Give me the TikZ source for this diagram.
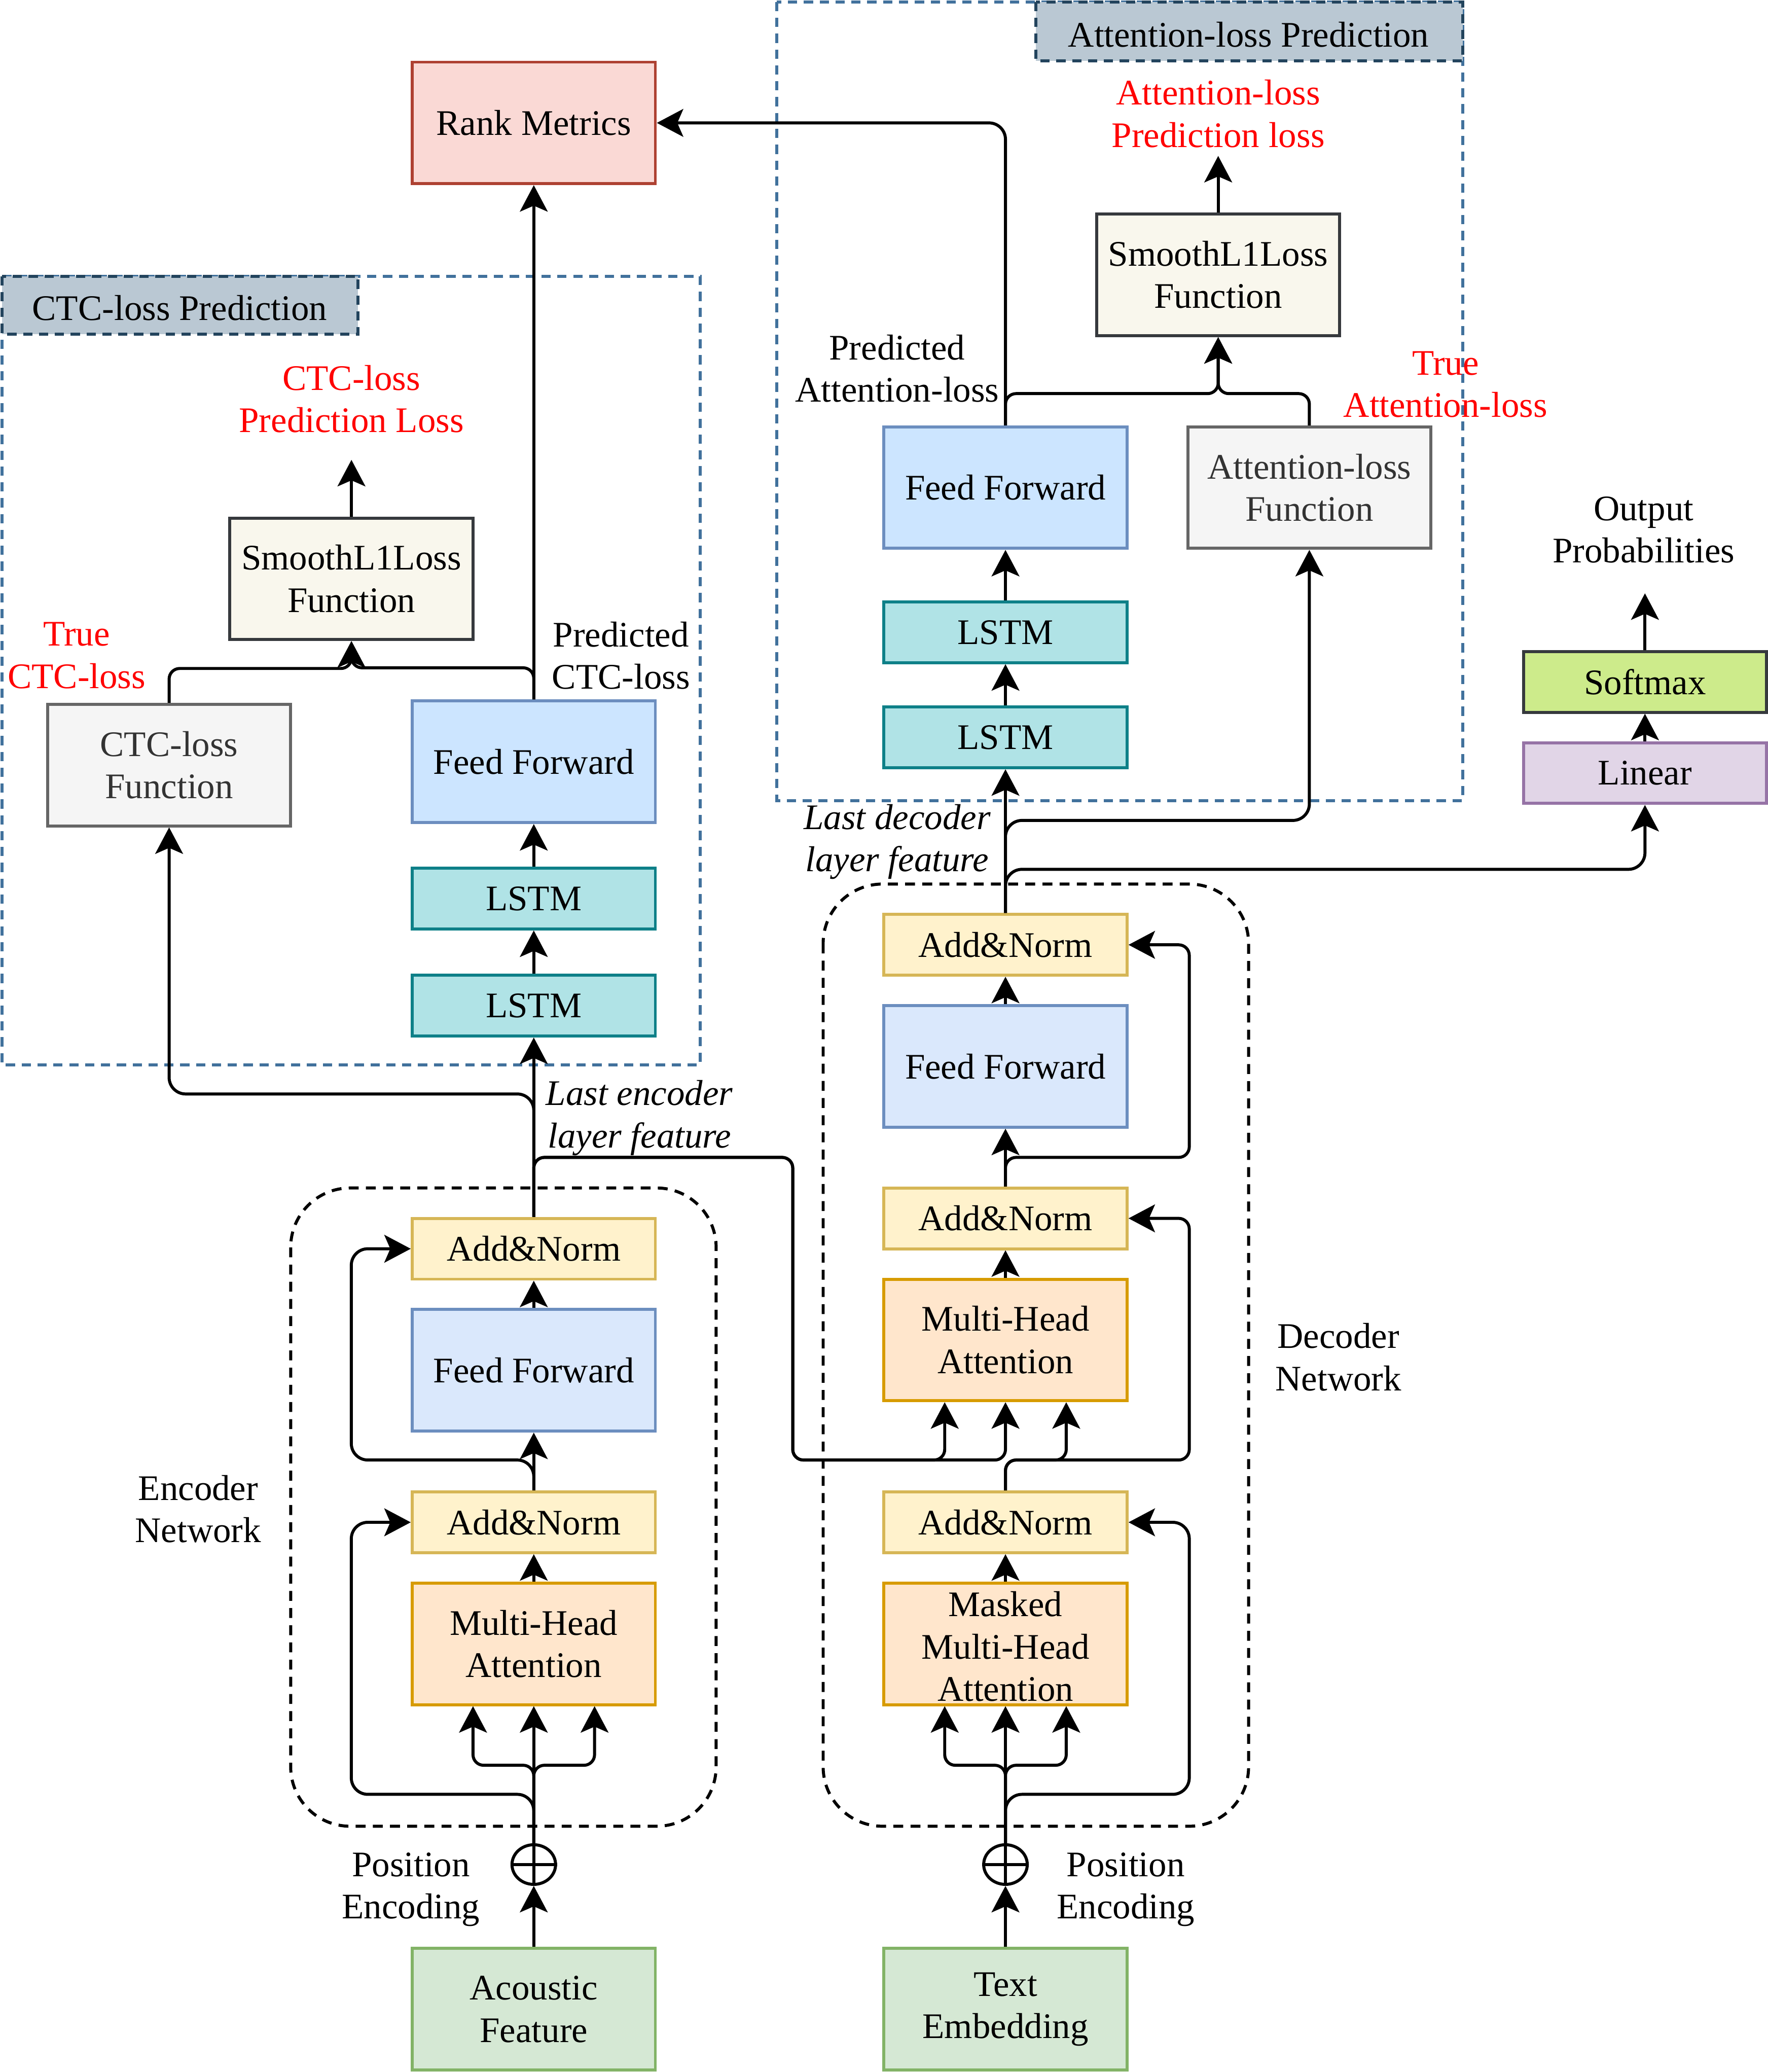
\documentclass[tikz,border=0pt]{standalone}
\usepackage{fontspec}
\setmainfont{Liberation Serif}
\usetikzlibrary{arrows.meta,calc,shapes.geometric}
\definecolor{rankF}{HTML}{FAD9D5}\definecolor{rankD}{HTML}{AE4132}
\definecolor{ffpF}{HTML}{CCE5FF}\definecolor{ffD}{HTML}{6C8EBF}
\definecolor{ffF}{HTML}{DAE8FC}
\definecolor{lstmF}{HTML}{B0E3E6}\definecolor{lstmD}{HTML}{0E8088}
\definecolor{grayF}{HTML}{F5F5F5}\definecolor{grayD}{HTML}{666666}\definecolor{grayT}{HTML}{333333}
\definecolor{smF}{HTML}{F9F7ED}\definecolor{smD}{HTML}{36393D}
\definecolor{anF}{HTML}{FFF2CC}\definecolor{anD}{HTML}{D6B656}
\definecolor{mhaF}{HTML}{FFE6CC}\definecolor{mhaD}{HTML}{D79B00}
\definecolor{grF}{HTML}{D5E8D4}\definecolor{grD}{HTML}{82B366}
\definecolor{sfF}{HTML}{CDEB8B}
\definecolor{lnF}{HTML}{E1D5E7}\definecolor{lnD}{HTML}{9673A6}
\definecolor{lbF}{HTML}{BAC8D3}\definecolor{lbD}{HTML}{23445D}
\definecolor{frD}{HTML}{41719C}
\definecolor{redT}{HTML}{FF0000}
\begin{document}
\begin{tikzpicture}[x=0.02cm,y=-0.02cm,
  font=\fontsize{15.5pt}{18.2pt}\selectfont,
  lw/.style={line width=1.3pt},
  arr/.style={lw,-{Stealth[length=0.4cm,width=0.42cm,inset=0.09cm]},rounded corners=0.25cm},
  sharpfork/.style={rounded corners=0.16cm},
  box/.style={draw,lw,minimum width=3.68cm,inner sep=0pt,align=center},
  tall/.style={box,minimum height=1.84cm},
  short/.style={box,minimum height=0.92cm},
  ffp/.style={tall,fill=ffpF,draw=ffD},
  ffe/.style={tall,fill=ffF,draw=ffD},
  lstm/.style={short,fill=lstmF,draw=lstmD},
  grayfn/.style={tall,fill=grayF,draw=grayD,text=grayT},
  smooth/.style={tall,fill=smF,draw=smD},
  addnorm/.style={short,fill=anF,draw=anD},
  mha/.style={tall,fill=mhaF,draw=mhaD},
  inp/.style={tall,fill=grF,draw=grD},
  txt/.style={align=center,inner sep=0pt},
  ittxt/.style={txt,font=\fontsize{15.5pt}{18.2pt}\selectfont\itshape},
  frame/.style={draw=frD,lw,dash pattern=on 0.14cm off 0.1cm},
  lblbox/.style={fill=lbF,draw=lbD,lw,dash pattern=on 0.14cm off 0.1cm},
  netframe/.style={draw=black,lw,dash pattern=on 0.15cm off 0.11cm,rounded corners=0.9cm},
  plus/.style={draw,lw,ellipse,minimum width=0.66cm,minimum height=0.6cm,inner sep=0pt}
]
\useasboundingbox (0,0) rectangle (1338,1568);

% ---- frames ----
\draw[frame] (1.5,209) rectangle (530,806);
\draw[lblbox] (1.5,209) rectangle (271,253);
\node[txt] (ctcttl) at (136,233) {CTC-loss Prediction};
\draw[frame] (588,1.5) rectangle (1107,606);
\draw[lblbox] (784,1.5) rectangle (1107,46);
\node[txt] (attttl) at (945,26) {Attention-loss Prediction};
\draw[netframe] (220,899) rectangle (542,1382);
\draw[netframe] (623,669) rectangle (945,1382);

% ---- nodes ----
\node[tall,fill=rankF,draw=rankD] (rank) at (404,93) {Rank Metrics};
% CTC branch
\node[ffp] (ctcff) at (404,576.5) {Feed Forward};
\node[lstm] (ctcl2) at (404,680) {LSTM};
\node[lstm] (ctcl1) at (404,761) {LSTM};
\node[grayfn] (ctcfn) at (128,579) {CTC-loss\\Function};
\node[smooth] (ctcsm) at (266,438) {SmoothL1Loss\\Function};
\coordinate (ctcout) at (266,348);
% attention branch
\node[ffp] (aff) at (761,369) {Feed Forward};
\node[lstm] (al2) at (761,478.5) {LSTM};
\node[lstm] (al1) at (761,558) {LSTM};
\node[grayfn] (afn) at (991,369) {Attention-loss\\Function};
\node[smooth] (asm) at (922,208) {SmoothL1Loss\\Function};
\coordinate (asmout) at (922,118);
% output
\node[short,fill=sfF,draw=smD] (soft) at (1245,516) {Softmax};
\node[short,fill=lnF,draw=lnD] (lin) at (1245,585) {Linear};
\coordinate (softout) at (1245,449);
% encoder
\node[addnorm] (ean2) at (404,945) {Add\&Norm};
\node[ffe] (eff) at (404,1037) {Feed Forward};
\node[addnorm] (ean1) at (404,1152) {Add\&Norm};
\node[mha] (emha) at (404,1244) {Multi-Head\\Attention};
\node[plus] (eplus) at (404,1411) {};
\node[inp] (eaf) at (404,1520.5) {Acoustic\\Feature};
% decoder
\node[addnorm] (dan3) at (761,715) {Add\&Norm};
\node[ffe] (dff) at (761,807) {Feed Forward};
\node[addnorm] (dan2) at (761,922) {Add\&Norm};
\node[mha] (dmha) at (761,1014) {Multi-Head\\Attention};
\node[addnorm] (dan1) at (761,1152) {Add\&Norm};
\node[mha] (dmmha) at (761,1244) {};
\node[txt] (dmmhat) at (761,1246) {Masked\\Multi-Head\\Attention};
\node[plus] (dplus) at (761,1411) {};
\node[inp] (dte) at (761,1520.5) {Text\\Embedding};

\draw[lw] (eplus.west) -- (eplus.east) (eplus.north) -- (eplus.south);
\draw[lw] (dplus.west) -- (dplus.east) (dplus.north) -- (dplus.south);

% ---- labels ----
\node[txt,text=redT] (l1) at (266,302) {CTC-loss\\Prediction Loss};
\node[txt,text=redT] (l2) at (58,496) {True\\CTC-loss};
\node[txt] (l3) at (470,496) {Predicted\\CTC-loss};
\node[txt,text=redT] (l4) at (922,86) {Attention-loss\\Prediction loss};
\node[txt,text=redT] (l5) at (1094,291) {True\\Attention-loss};
\node[txt] (l6) at (679,279) {Predicted\\Attention-loss};
\node[txt] (l7) at (1244,401) {Output\\Probabilities};
\node[ittxt] (l8) at (484,846) {Last encoder\\layer feature};
\node[ittxt] (l9) at (679,637) {Last decoder\\layer feature};
\node[txt] (l10) at (311,1430) {Position\\Encoding};
\node[txt] (l11) at (852,1430) {Position\\Encoding};
\node[txt] (l12) at (150,1142) {Encoder\\Network};
\node[txt] (l13) at (1013,1027) {Decoder\\Network};

% ---- encoder connectors ----
\draw[arr] (eaf) -- (eplus);
\draw[arr] (eplus) -- (emha);
\draw[arr,sharpfork] (eplus.north) -- ++(0,-59) -| ([xshift=-0.92cm]emha.south);
\draw[arr,sharpfork] (eplus.north) -- ++(0,-59) -| ([xshift=0.92cm]emha.south);
\draw[arr] (eplus.north) -- ++(0,-37) -| ([xshift=-0.9cm]ean1.west) -- (ean1.west);
\draw[arr] (emha) -- (ean1);
\draw[arr] (ean1) -- (eff);
\draw[arr] (ean1.north) -- ++(0,-23) -| ([xshift=-0.9cm]ean2.west) -- (ean2.west);
\draw[arr] (eff) -- (ean2);
\draw[arr] (ean2) -- (ctcl1);
\draw[arr] (ean2.north) -- ++(0,-93) -| (ctcfn.south);
\draw[arr,sharpfork] (ean2.north) -- ++(0,-45) -| ++(196,229) -| ([xshift=-0.92cm]dmha.south);
\draw[arr,sharpfork] (ean2.north) -- ++(0,-45) -| ++(196,229) -| (dmha.south);

% ---- decoder connectors ----
\draw[arr] (dte) -- (dplus);
\draw[arr] (dplus) -- (dmmha);
\draw[arr,sharpfork] (dplus.north) -- ++(0,-59) -| ([xshift=-0.92cm]dmmha.south);
\draw[arr,sharpfork] (dplus.north) -- ++(0,-59) -| ([xshift=0.92cm]dmmha.south);
\draw[arr] (dplus.north) -- ++(0,-37) -| ([xshift=0.92cm]dan1.east) -- (dan1.east);
\draw[arr] (dmmha) -- (dan1);
\draw[arr,sharpfork] (dan1.north) -- ++(0,-23) -| ([xshift=0.92cm]dmha.south);
\draw[arr,sharpfork] (dan1.north) -- ++(0,-23) -| ([xshift=0.92cm]dan2.east) -- (dan2.east);
\draw[arr] (dmha) -- (dan2);
\draw[arr] (dan2) -- (dff);
\draw[arr,sharpfork] (dan2.north) -- ++(0,-22) -| ([xshift=0.92cm]dan3.east) -- (dan3.east);
\draw[arr] (dff) -- (dan3);
\draw[arr] (dan3) -- (al1);
\draw[arr] (dan3.north) -- ++(0,-33) -| (lin.south);
\draw[arr] (dan3.north) -- ++(0,-70) -| (afn.south);

% ---- prediction connectors ----
\draw[arr] (ctcl1) -- (ctcl2);
\draw[arr] (ctcl2) -- (ctcff);
\draw[arr,sharpfork] (ctcff.north) -- ++(0,-24) -| (ctcsm.south);
\draw[arr,sharpfork] (ctcfn.north) -- ++(0,-26) -| (ctcsm.south);
\draw[arr] (ctcsm) -- (ctcout);
\draw[arr] (ctcff) -- (rank);
\draw[arr] (al1) -- (al2);
\draw[arr] (al2) -- (aff);
\draw[arr,sharpfork] (aff.north) -- ++(0,-24) -| (asm.south);
\draw[arr,sharpfork] (afn.north) -- ++(0,-24) -| (asm.south);
\draw[arr] (asm) -- (asmout);
\draw[arr] (aff.north) |- (rank.east);
\draw[arr] (lin) -- (soft);
\draw[arr] (soft) -- (softout);
\end{tikzpicture}
\end{document}
